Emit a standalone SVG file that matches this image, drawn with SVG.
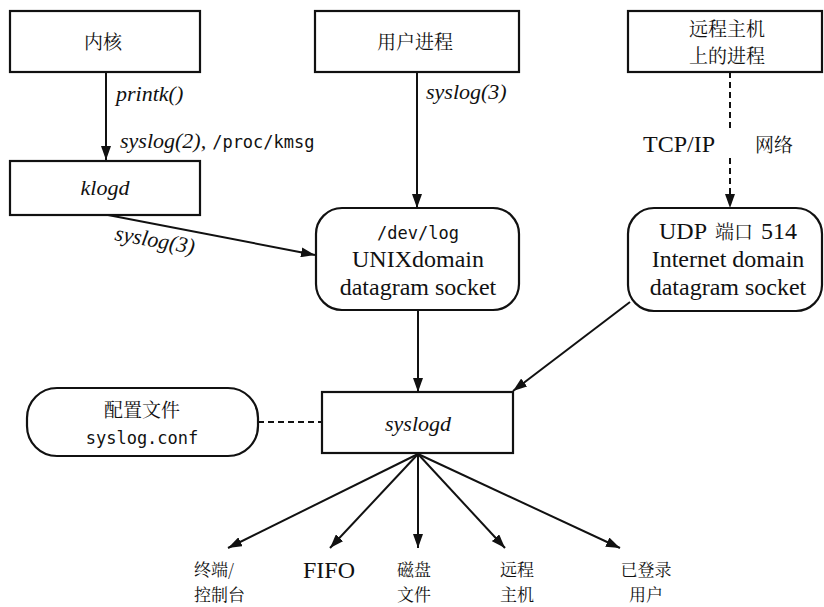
<svg xmlns="http://www.w3.org/2000/svg" width="824" height="607" viewBox="0 0 824 607">
  <defs>
    <marker id="arrow" viewBox="0 0 14 10" refX="14" refY="5" markerWidth="14" markerHeight="10" markerUnits="userSpaceOnUse" orient="auto">
      <path d="M0,0 L14,5 L0,10 z" fill="#111"/>
    </marker>
    <style>
      .box { fill: #fff; stroke: #111; stroke-width: 2.2; }
      .edge { fill: none; stroke: #111; stroke-width: 2; }
      .dash { stroke-dasharray: 6 4; }
      .zh { font-family: "Noto Serif CJK SC", "Noto Sans CJK SC", sans-serif; font-size: 19px; fill: #111; }
      .zh.sm { font-size: 17px; }
      .serif { font-family: "Liberation Serif", "Times New Roman", Tinos, "Noto Serif", "DejaVu Serif", "Noto Serif CJK SC", serif; font-size: 24px; fill: #111; }
      .it { font-family: "Liberation Serif", "Times New Roman", Tinos, "Noto Serif", "DejaVu Serif", serif; font-style: italic; font-size: 22px; fill: #111; }
      .mono { font-family: "DejaVu Sans Mono", "Liberation Mono", monospace; font-size: 17px; fill: #111; }
      .c { text-anchor: middle; }
    </style>
  </defs>

  <!-- connectors -->
  <g id="connectors">
    <line class="edge" x1="106" y1="73" x2="106" y2="160" marker-end="url(#arrow)"/>
    <line class="edge" x1="417" y1="72" x2="417" y2="208" marker-end="url(#arrow)"/>
    <line class="edge" x1="108" y1="215" x2="315" y2="255" marker-end="url(#arrow)"/>
    <line class="edge dash" x1="730" y1="72" x2="730" y2="128"/>
    <line class="edge dash" x1="730" y1="158" x2="730" y2="208" marker-end="url(#arrow)"/>
    <line class="edge" x1="418" y1="310" x2="418" y2="392" marker-end="url(#arrow)"/>
    <line class="edge" x1="630" y1="302" x2="513" y2="391" marker-end="url(#arrow)"/>
    <line class="edge dash" x1="258" y1="422" x2="322" y2="422"/>
    <line class="edge" x1="418" y1="454" x2="228" y2="548" marker-end="url(#arrow)"/>
    <line class="edge" x1="418" y1="454" x2="330" y2="548" marker-end="url(#arrow)"/>
    <line class="edge" x1="418" y1="454" x2="418" y2="548" marker-end="url(#arrow)"/>
    <line class="edge" x1="418" y1="454" x2="505" y2="548" marker-end="url(#arrow)"/>
    <line class="edge" x1="418" y1="454" x2="620" y2="548" marker-end="url(#arrow)"/>
  </g>

  <!-- connector labels -->
  <g id="labels">
    <text class="it" x="116" y="101">printk()</text>
    <text x="120" y="148"><tspan class="it">syslog(2),</tspan><tspan class="mono" dx="6">/proc/kmsg</tspan></text>
    <text class="it" x="114" y="240" transform="rotate(10 114 240)">syslog(3)</text>
    <text class="it" x="426" y="99">syslog(3)</text>
    <text class="serif" x="643" y="152">TCP/IP</text>
    <text class="zh" x="755" y="152">网络</text>
  </g>

  <g id="kernel">
    <rect class="box" x="10" y="11" width="190" height="61"/>
    <text class="zh c" x="103" y="49">内核</text>
  </g>

  <g id="klogd">
    <rect class="box" x="10" y="161" width="190" height="54"/>
    <text class="it c" x="105" y="195">klogd</text>
  </g>

  <g id="user-process">
    <rect class="box" x="315" y="11" width="204" height="61"/>
    <text class="zh c" x="415" y="49">用户进程</text>
  </g>

  <g id="remote-process">
    <rect class="box" x="628" y="11" width="194" height="61"/>
    <text class="zh c" x="727" y="36">远程主机</text>
    <text class="zh c" x="727" y="63">上的进程</text>
  </g>

  <g id="dev-log">
    <rect class="box" x="316" y="208" width="203" height="102" rx="26"/>
    <text class="mono c" x="418" y="239">/dev/log</text>
    <text class="serif c" x="418" y="267">UNIXdomain</text>
    <text class="serif c" x="418" y="295">datagram socket</text>
  </g>

  <g id="udp-port">
    <rect class="box" x="628" y="208" width="194" height="103" rx="26"/>
    <text class="c" x="728" y="239"><tspan class="serif">UDP</tspan><tspan class="zh" dx="8">端口</tspan><tspan class="serif" dx="8">514</tspan></text>
    <text class="serif c" x="728" y="267">Internet domain</text>
    <text class="serif c" x="728" y="295">datagram socket</text>
  </g>

  <g id="syslog-conf">
    <rect class="box" x="27" y="388" width="231" height="68" rx="30"/>
    <text class="zh c" x="142" y="417">配置文件</text>
    <text class="mono c" x="142" y="444">syslog.conf</text>
  </g>

  <g id="syslogd">
    <rect class="box" x="322" y="392" width="191" height="61"/>
    <text class="it c" x="418" y="431">syslogd</text>
  </g>

  <g id="terminal">
    <text class="zh sm" x="194" y="576">终端/</text>
    <text class="zh sm" x="194" y="601">控制台</text>
  </g>
  <g id="fifo">
    <text class="serif c" x="329" y="578">FIFO</text>
  </g>
  <g id="disk-file">
    <text class="zh sm c" x="414" y="576">磁盘</text>
    <text class="zh sm c" x="414" y="601">文件</text>
  </g>
  <g id="remote-host">
    <text class="zh sm c" x="517" y="576">远程</text>
    <text class="zh sm c" x="517" y="601">主机</text>
  </g>
  <g id="logged-in-user">
    <text class="zh sm c" x="646" y="576">已登录</text>
    <text class="zh sm c" x="646" y="601">用户</text>
  </g>
</svg>
